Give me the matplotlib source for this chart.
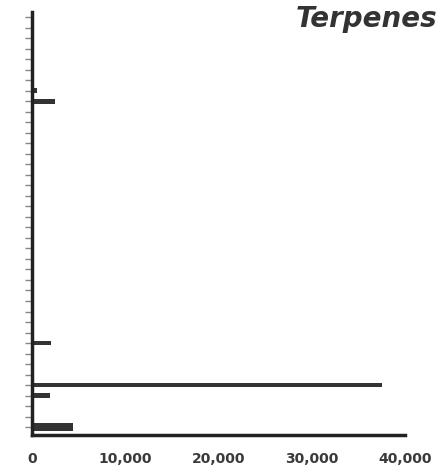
import matplotlib
matplotlib.use("Agg")
import matplotlib.pyplot as plt

# 40 compounds, labels unreadable in the source
n_rows = 40
values = [0, 200, 200, 200, 0, 0, 0, 500, 2500, 0,
          0, 0, 0, 0, 0, 0, 0, 0, 0, 0,
          0, 0, 0, 0, 0, 0, 0, 0, 0, 0,
          0, 2000, 0, 0, 0, 37500, 1900, 0, 0, 4400]
x_ticks = [0, 10000, 20000, 30000, 40000]
x_tick_labels = ["0", "10,000", "20,000", "30,000", "40,000"]
title = "Terpenes"

fig = plt.figure(figsize=(4.43, 4.70), dpi=100)
ax = fig.add_axes([0.072, 0.0745, 0.842, 0.9])

rows = list(range(n_rows))
heights = [0.75 if i == n_rows - 1 else (0.3 if v > 30000 else 0.45) for i, v in enumerate(values)]
ax.barh(rows, values, height=heights, color="#333333")

ax.set_xlim(0, 40000)
ax.set_ylim(39.75, -0.5)
ax.set_xticks(x_ticks)
ax.set_xticklabels(x_tick_labels, fontsize=10, fontweight="bold", color="#3a3a3a")
ax.set_yticks(rows)
ax.set_yticklabels([])
ax.tick_params(axis="x", length=0, pad=12)
ax.tick_params(axis="y", length=5, width=1, color="#888888")

for side in ["top", "right"]:
    ax.spines[side].set_visible(False)
for side in ["left", "bottom"]:
    ax.spines[side].set_linewidth(2.5)
    ax.spines[side].set_color("#222222")

fig.text(0.987, 0.96, title, ha="right", va="center", fontsize=20,
         fontweight="bold", fontstyle="italic", color="#333333")

fig.savefig("out.png", dpi=100)
